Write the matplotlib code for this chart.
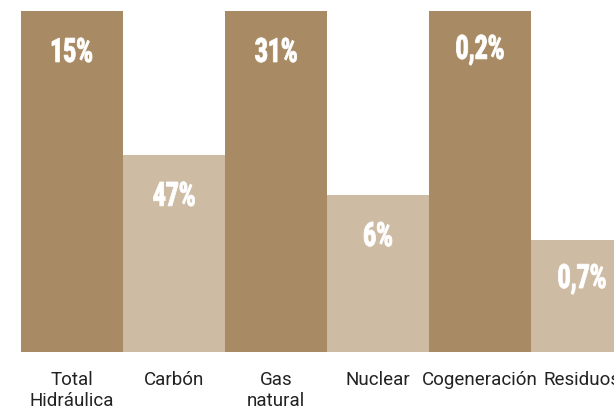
import matplotlib.pyplot as plt
from matplotlib.font_manager import FontProperties
from matplotlib.textpath import TextPath
from matplotlib.patches import PathPatch
from matplotlib.transforms import Affine2D, IdentityTransform

categories = ['Total\nHidráulica', 'Carbón', 'Gas\nnatural', 'Nuclear',
              'Cogeneración', 'Residuos']
heights = [100, 57.8, 100, 46.0, 100, 32.8]
value_labels = ['15%', '47%', '31%', '6%', '0,2%', '0,7%']

dark = '#a88b64'
light = '#cdbba4'
bar_colors = [dark, light, dark, light, dark, light]

fig = plt.figure(figsize=(6.14, 4.07), dpi=100)
ax = fig.add_axes([21 / 614, 55 / 407, 1 - 21 / 614, 341 / 407])

x = list(range(len(categories)))
ax.bar(x, heights, width=1.0, color=bar_colors, edgecolor='none')
ax.set_xlim(-0.5, (614 - 21) / 102 - 0.5)
ax.set_ylim(0, 100)
ax.axis('off')

px = 100 / 341  # data units per pixel

# condensed bold labels: draw text outlines squeezed horizontally
prop = FontProperties(family=['Roboto', 'DejaVu Sans'], weight='black')
ref = TextPath((0, 0), '15%', size=1, prop=prop).get_extents()
ky = 24.5 / ref.height
kx = 40 / ref.width
for xi, h, lab in zip(x, heights, value_labels):
    tp = TextPath((0, 0), lab, size=1, prop=prop)
    e = tp.get_extents()
    cx, cy = (e.x0 + e.x1) / 2, (e.y0 + e.y1) / 2
    dx, dy = ax.transData.transform((xi, h - 39 * px))
    tr = Affine2D().translate(-cx, -cy).scale(kx, ky).translate(dx, dy)
    ax.add_patch(PathPatch(tr.transform_path(tp), facecolor='white',
                           edgecolor='white', lw=0.6,
                           transform=IdentityTransform()))

for xi, cat in zip(x, categories):
    ax.text(xi, -19 * px, cat, ha='center', va='top', color='#222222',
            fontsize=13.5, family=['Roboto', 'DejaVu Sans'], linespacing=1.2,
            clip_on=False)

fig.savefig('out.png', dpi=100)
